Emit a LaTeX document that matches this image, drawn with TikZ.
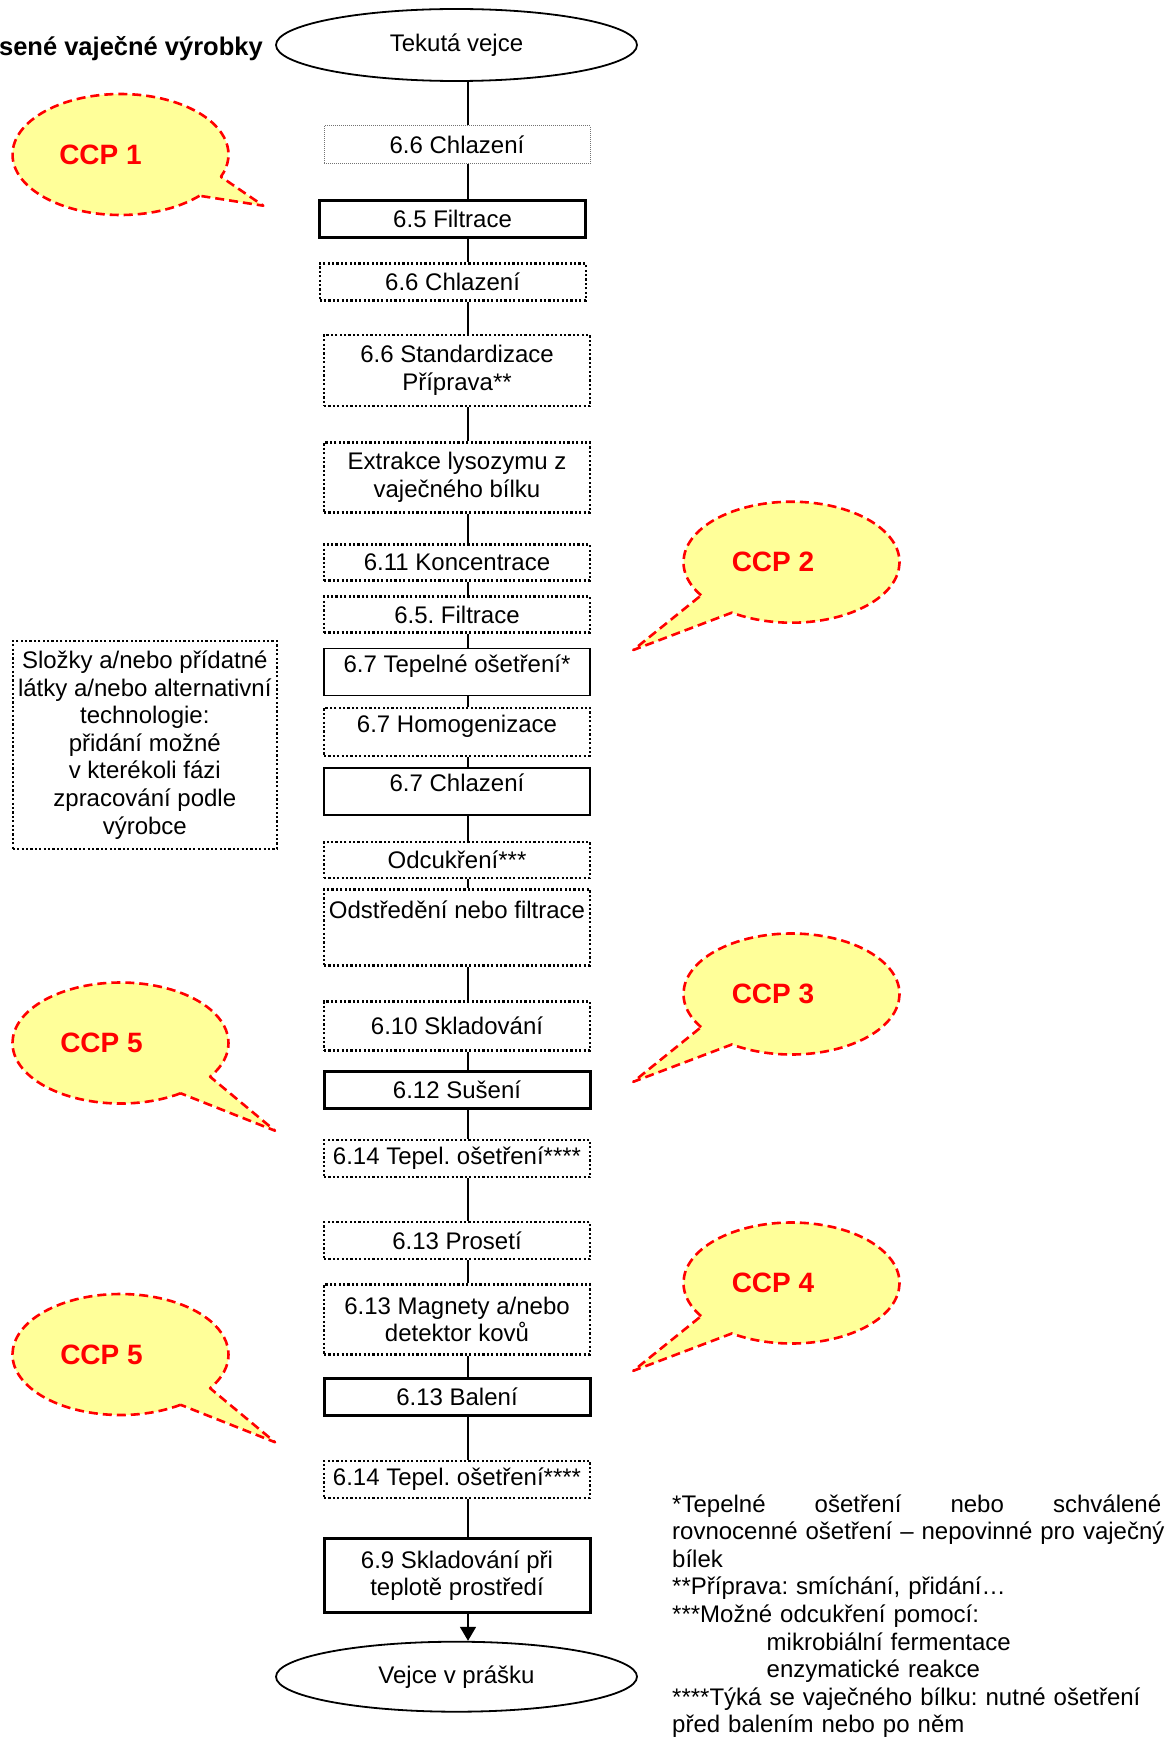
\documentclass[tikz,border=0pt]{standalone}
\usepackage{fontspec}
\setmainfont{Liberation Sans}
\usetikzlibrary{arrows.meta,shapes.geometric}
\definecolor{ccpyellow}{HTML}{FFFF99}
\definecolor{ccpred}{HTML}{FF0000}
\newcommand{\ccpbubble}[9]{%
  \draw[bubble] (#1,#2) ++(#3:108 and 60.5) arc[start angle=#3, end angle=#4, x radius=108, y radius=60.5] -- (#5,#6) -- cycle;
  \node[ccptext] (#8) at (#1+#9,#2) {#7};
}
\frenchspacing
\begin{document}
\begin{tikzpicture}[x=1pt,y=-1pt,
  every node/.style={font=\fontsize{24}{27.6}\selectfont},
  stepbase/.style={draw, rectangle, minimum width=266pt, inner xsep=2pt, inner ysep=1pt, align=center},
  thickbox/.style={stepbase, line width=3pt},
  thinbox/.style={stepbase, line width=1.3pt},
  dotbox/.style={stepbase, line width=2.2pt, dash pattern=on 2.2pt off 2.2pt},
  finedotbox/.style={stepbase, line width=1pt, draw=black!55, dash pattern=on 1pt off 1pt},
  terminal/.style={draw, ellipse, line width=1.8pt, minimum width=361pt, minimum height=72pt, inner sep=0pt},
  flow/.style={line width=1.6pt},
  bubble/.style={draw=ccpred, fill=ccpyellow, line width=2.6pt, dash pattern=on 9pt off 5pt, line join=round},
  ccptext/.style={font=\fontsize{28}{32}\selectfont\bfseries, text=ccpred},
]
\useasboundingbox (0,0) rectangle (1167,1739);

% title (cut by the page edge)
\node[anchor=base east, inner sep=0pt, font=\fontsize{25.5}{29}\selectfont\bfseries] (title) at (263,56) {sené vaječné výrobky};

% flow
\node[terminal] (start) at (456.5,45) {Tekutá vejce};
\node[finedotbox, minimum height=38pt] (s1) at (457,145) {6.6 Chlazení};
\node[thickbox, minimum height=37pt] (s2) at (452.6,219) {6.5 Filtrace};
\node[dotbox, minimum height=37pt] (s3) at (452.6,282) {6.6 Chlazení};
\node[dotbox, minimum height=71pt] (s4) at (457,370.5) {6.6 Standardizace\\Příprava**};
\node[dotbox, minimum height=70pt] (s5) at (457,477.5) {Extrakce lysozymu z\\vaječného bílku};
\node[dotbox, minimum height=36pt] (s6) at (457,562.5) {6.11 Koncentrace};
\node[dotbox, minimum height=36pt] (s7) at (457,614.5) {6.5. Filtrace};
\node[thinbox, minimum height=47pt, text depth=17pt] (s8) at (457,671.7) {6.7 Tepelné ošetření*};
\node[dotbox, minimum height=48pt, text depth=15pt] (s9) at (457,731.6) {6.7 Homogenizace};
\node[thinbox, minimum height=47pt, text depth=17pt] (s10) at (457,791.5) {6.7 Chlazení};
\node[dotbox, minimum height=36pt] (s11) at (457,859.7) {Odcukření***};
\node[dotbox, minimum height=76pt] (s12) at (457,927.4) {Odstředění nebo filtrace\\\strut};
\node[dotbox, minimum height=49pt] (s13) at (457,1026) {6.10 Skladování};
\node[thickbox, minimum height=37pt] (s14) at (457,1090) {6.12 Sušení};
\node[dotbox, minimum height=37pt] (s15) at (457,1158.6) {6.14 Tepel. ošetření****};
\node[dotbox, minimum height=37pt] (s16) at (457,1240.8) {6.13 Prosetí};
\node[dotbox, minimum height=70pt] (s17) at (457,1319.5) {6.13 Magnety a/nebo\\detektor kovů};
\node[thickbox, minimum height=37pt] (s18) at (457,1397.2) {6.13 Balení};
\node[dotbox, minimum height=37pt] (s19) at (457,1479.3) {6.14 Tepel. ošetření****};
\node[thickbox, minimum height=74pt] (s20) at (457,1575.8) {6.9 Skladování při\\teplotě prostředí};
\node[terminal, minimum height=70pt] (end) at (456.5,1676.7) {Vejce v prášku};

\coordinate (L) at (468,0);
\foreach \a/\b in {start/s1,s1/s2,s2/s3,s3/s4,s4/s5,s5/s6,s6/s7,s7/s8,s8/s9,s9/s10,s10/s11,s11/s12,s12/s13,s13/s14,s14/s15,s15/s16,s16/s17,s17/s18,s18/s19,s19/s20}
  \draw[flow] (\a.south -| L) -- (\b.north -| L);
\draw[flow, -{Triangle[width=16pt,length=14pt]}] (s20.south -| L) -- (end.north -| L);

% side note
\node[dotbox, minimum width=264pt, minimum height=208pt] (side) at (144.8,744.9) {Složky a/nebo přídatné\\látky a/nebo alternativní\\technologie:\\přidání možné\\v kterékoli fázi\\zpracování podle\\výrobce};

% CCP bubbles
\ccpbubble{120.5}{154.5}{43}{381.6}{263.3}{205.7}{CCP 1}{ccp1}{-20}
\ccpbubble{791.5}{562.2}{146.8}{483.5}{633.3}{650}{CCP 2}{ccp2}{-18.5}
\ccpbubble{791.5}{994}{146.8}{483.5}{633.3}{1081.8}{CCP 3}{ccp3}{-18.5}
\ccpbubble{791.5}{1283}{146.8}{483.5}{633.3}{1370.8}{CCP 4}{ccp4}{-18.5}
\ccpbubble{120.5}{1043}{56.2}{393.9}{275}{1130.7}{CCP 5}{ccp5a}{-19}
\ccpbubble{120.5}{1354.5}{56.2}{393.9}{275}{1442.2}{CCP 5}{ccp5b}{-19}

% footnotes
\node[anchor=base west, inner sep=0pt, text width=500pt, align=left] (notes) at (672,1512) {\hbox to 489pt{*Tepelné\hfill ošetření\hfill nebo\hfill schválené}\\{}rovnocenné ošetření – nepovinné pro vaječný\\{}bílek\\{}**Příprava: smíchání, přidání…\\{}***Možné odcukření pomocí:\\\hspace*{94.5pt}mikrobiální fermentace\\\hspace*{94.5pt}enzymatické reakce\\{}****Týká se vaječného bílku: nutné ošetření\\{}před balením nebo po něm};
\end{tikzpicture}
\end{document}
